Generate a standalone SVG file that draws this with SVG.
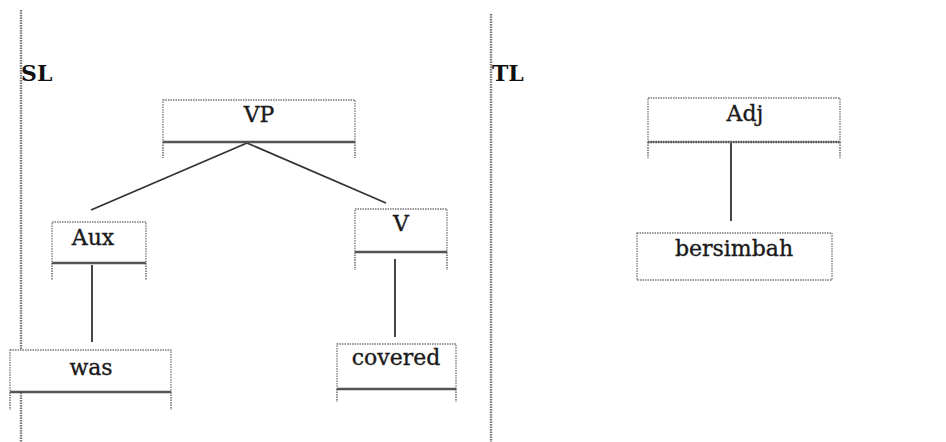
<svg xmlns="http://www.w3.org/2000/svg" width="946" height="442" viewBox="0 0 946 442">
<style>
.box{fill:#fff;stroke:#777;stroke-width:1.3;stroke-dasharray:1.5 1}
.side{stroke:#777;stroke-width:1.6;stroke-dasharray:1.5 1;fill:none}
.base{stroke:#555;stroke-width:2.4;fill:none}
.lbl{font-family:'DejaVu Serif','Liberation Serif',serif;font-size:22px;fill:#1a1a1a;stroke:#1a1a1a;stroke-width:0.35;text-anchor:middle}
.hd{font-family:'DejaVu Serif','Liberation Serif',serif;font-size:22px;font-weight:bold;fill:#111}
.sep{stroke:#777;stroke-width:2.4;stroke-dasharray:1.5 1;fill:none}
.conn{stroke:#333;stroke-width:1.8;fill:none}
</style>
<rect width="946" height="442" fill="#fff"/>
<g id="separators">
<line class="sep" x1="21" y1="10" x2="21" y2="442"/>
<line class="sep" x1="491" y1="14" x2="491" y2="442"/>
</g>
<g id="SL"><text class="hd" x="21" y="81">SL</text></g>
<g id="TL"><text class="hd" x="492" y="81">TL</text></g>
<g id="connectors">
<line class="conn" x1="247" y1="143" x2="91" y2="210"/>
<line class="conn" x1="247" y1="143" x2="386" y2="203"/>
<line class="conn" x1="92" y1="265" x2="92" y2="342"/>
<line class="conn" x1="395" y1="259" x2="395" y2="337"/>
<line class="conn" x1="731" y1="143" x2="731" y2="221"/>
</g>
<g id="VP">
<rect class="box" x="163" y="100" width="192" height="42"/>
<line class="side" x1="163" y1="142" x2="163" y2="158"/>
<line class="side" x1="355" y1="142" x2="355" y2="158"/>
<line class="base" x1="163" y1="142" x2="355" y2="142"/>
<text class="lbl" x="259" y="122">VP</text>
</g>
<g id="Aux">
<rect class="box" x="52" y="222" width="94" height="41"/>
<line class="side" x1="52" y1="263" x2="52" y2="280"/>
<line class="side" x1="146" y1="263" x2="146" y2="280"/>
<line class="base" x1="52" y1="263" x2="146" y2="263"/>
<text class="lbl" x="93" y="245">Aux</text>
</g>
<g id="was">
<rect class="box" x="10" y="350" width="161" height="42"/>
<line class="side" x1="10" y1="392" x2="10" y2="410"/>
<line class="side" x1="171" y1="392" x2="171" y2="410"/>
<line class="base" x1="10" y1="392" x2="171" y2="392"/>
<text class="lbl" x="91" y="375">was</text>
</g>
<g id="V">
<rect class="box" x="355" y="209" width="92" height="43"/>
<line class="side" x1="355" y1="252" x2="355" y2="270"/>
<line class="side" x1="447" y1="252" x2="447" y2="270"/>
<line class="base" x1="355" y1="252" x2="447" y2="252"/>
<text class="lbl" x="401" y="231">V</text>
</g>
<g id="covered">
<rect class="box" x="337" y="344" width="119" height="45"/>
<line class="side" x1="337" y1="389" x2="337" y2="402"/>
<line class="side" x1="456" y1="389" x2="456" y2="402"/>
<line class="base" x1="337" y1="389" x2="456" y2="389"/>
<text class="lbl" x="396" y="365">covered</text>
</g>
<g id="Adj">
<rect class="box" x="648" y="98" width="192" height="44"/>
<line class="side" x1="648" y1="142" x2="648" y2="158"/>
<line class="side" x1="840" y1="142" x2="840" y2="158"/>
<line class="base" x1="648" y1="142" x2="840" y2="142" stroke-dasharray="1.5 1"/>
<text class="lbl" x="745" y="121">Adj</text>
</g>
<g id="bersimbah">
<rect class="box" x="637" y="233" width="195" height="47" stroke-width="2"/>
<text class="lbl" x="734" y="256">bersimbah</text>
</g>
</svg>
